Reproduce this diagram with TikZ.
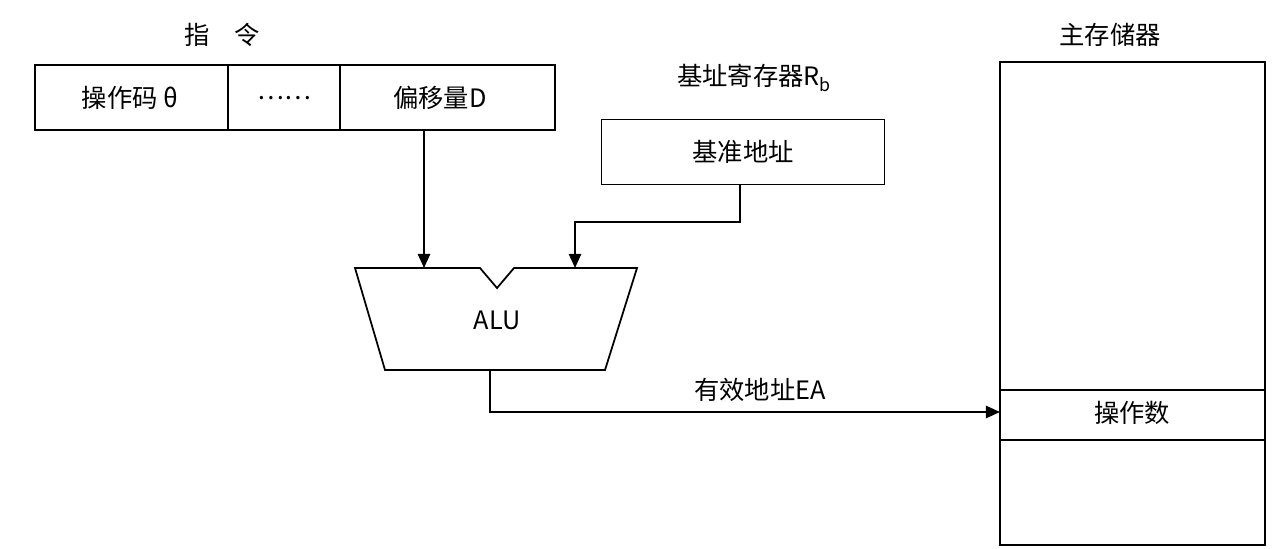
\documentclass[tikz,border=0pt]{standalone}
\usepackage{fontspec}
\setmainfont{Noto Sans CJK SC}
\usetikzlibrary{arrows.meta}
\begin{document}
\begin{tikzpicture}[x=0.01cm,y=-0.01cm,font=\fontsize{7.2}{8}\selectfont,
  line/.style={draw=black,line width=0.5pt},
  arr/.style={line,-{Triangle[length=4pt,width=3.5pt]}},
  lbl/.style={inner sep=0pt}]
\useasboundingbox (0,0) rectangle (1280,548);
\node[lbl] (t1) at (222,35) {指\hspace{1em}令};
\node[lbl] (t2) at (1110,35) {主存储器};
\node[lbl] (t3) at (755,78) {基址寄存器R$_\mathrm{b}$};
\draw[line] (35,65) rectangle (555,130);
\draw[line] (228,65) -- (228,130) (340,65) -- (340,130);
\node[lbl] (op) at (130,98) {操作码 θ};
\node[lbl] (dots) at (284,98) {……};
\node[lbl] (d) at (440,98) {偏移量D};
\node[line,draw,minimum width=2.83cm,minimum height=0.65cm] (base) at (743,152) {基准地址};
\draw[line] (355,268) -- (480,268) -- (497,288) -- (514,268) -- (637,268) -- (605,370) -- (385,370) -- cycle;
\node[lbl] (alu) at (497,320) {ALU};
\coordinate (din) at (424,130);
\coordinate (ain) at (424,268);
\draw[arr] (din) -- (ain);
\coordinate (bin) at (575,268);
\draw[arr] (base.south -| 740,0) -- (740,222) -- (575,222) -- (bin);
\draw[line] (1000,62) rectangle (1265,545);
\draw[line] (1000,390) -- (1265,390) (1000,440) -- (1265,440);
\node[lbl] (opd) at (1132,413) {操作数};
\coordinate (aout) at (490,370);
\coordinate (mem) at (1000,412);
\draw[arr] (aout) -- (490,412) -- (mem);
\node[lbl] (ea) at (760,390) {有效地址EA};
\end{tikzpicture}
\end{document}
